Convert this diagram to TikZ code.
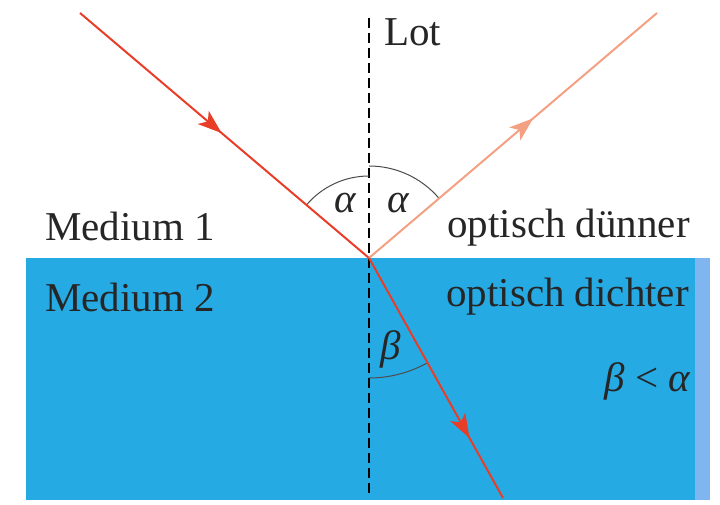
\documentclass[tikz,border=0pt]{standalone}
\usepackage{fontspec}
\setmainfont{Liberation Serif}
\usetikzlibrary{arrows.meta,decorations.markings}

\definecolor{water}{RGB}{38,170,228}
\definecolor{wateredge}{RGB}{128,182,240}
\definecolor{rayred}{RGB}{232,62,40}
\definecolor{raylight}{RGB}{244,160,130}

\tikzset{
    ray/.style={line width=2pt},
    midarrow/.style={postaction={decorate},
        decoration={markings, mark=at position #1 with {\arrow{Stealth[length=24pt,width=17pt,inset=6pt]}}}},
    anglearc/.style={black!70, line width=1pt},
    lbl/.style={font=\fontsize{41}{49}\selectfont, inner sep=0pt, text=black!85},
}

\begin{document}
\begin{tikzpicture}[x=1pt, y=1pt]
    \useasboundingbox (0,0) rectangle (720,505);

    % optisch dichteres Medium
    \fill[water] (26,5) rectangle (695,247);
    \fill[wateredge] (695,5) rectangle (710,247);

    \coordinate (P) at (369,247);
    \coordinate (src) at (80,492);
    \coordinate (refl) at (657,492);
    \coordinate (refr) at (503,7);

    % Lot
    \draw[dash pattern=on 10pt off 5pt, line width=1.2pt] (369,487) -- (369,8);
    \node[lbl, anchor=west] (lot) at (384,473) {Lot};

    % Winkelboegen
    \draw[anglearc] (P) ++(90:82) arc[start angle=90, end angle=139.7, radius=82];
    \draw[anglearc] (P) ++(40.3:92) arc[start angle=40.3, end angle=90, radius=92];
    \draw[anglearc] (P) ++(270:120) arc[start angle=270, end angle=299.2, radius=120];

    % einfallender, reflektierter und gebrochener Strahl
    \draw[ray, rayred, midarrow=0.49] (src) -- (P);
    \draw[ray, raylight, midarrow=0.57] (P) -- (refl);
    \draw[ray, rayred, midarrow=0.75] (P) -- (refr);

    \node[lbl] (a1) at (346,302) {\textit{α}};
    \node[lbl] (a2) at (399,302) {\textit{α}};
    \node[lbl] (b1) at (391,156) {\textit{β}};

    \node[lbl, anchor=west] (m1) at (45,279) {Medium 1};
    \node[lbl, anchor=west] (m2) at (45,208) {Medium 2};
    \node[lbl, anchor=east] (thin) at (690,277) {optisch dünner};
    \node[lbl, anchor=east] (thick) at (689,208) {optisch dichter};
    \node[lbl] (cmp) at (648,124) {\textit{β} < \textit{α}};
\end{tikzpicture}
\end{document}
